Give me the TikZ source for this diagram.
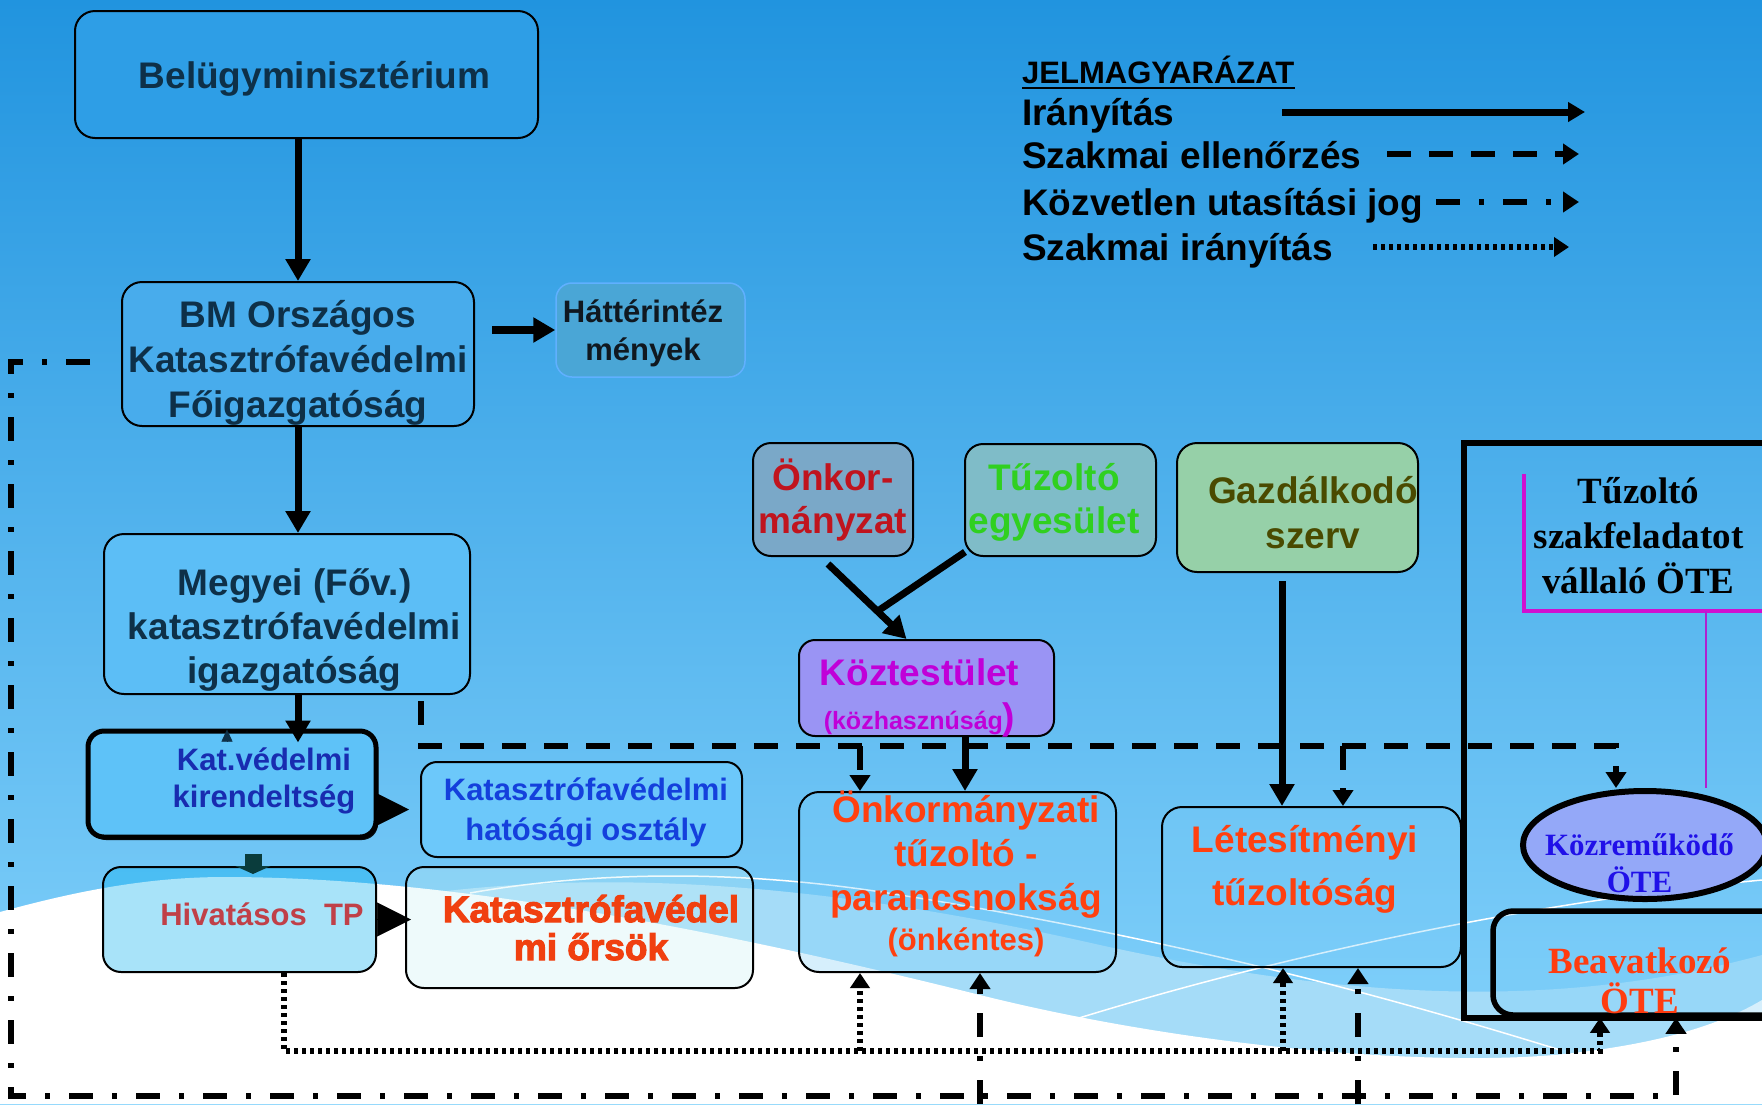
\documentclass[tikz,border=0pt]{standalone}
\usepackage{fontspec}
\setmainfont{Liberation Sans}
\newfontfamily\timesfont{Liberation Serif}
\newfontfamily\heavyfont{Liberation Sans}[BoldFeatures={FakeBold=3}]
\usetikzlibrary{arrows.meta, shapes.geometric, shadows, calc}

\definecolor{bgtop}{RGB}{33,148,223}
\definecolor{bgmid}{RGB}{98,182,240}
\definecolor{bgbot}{RGB}{135,212,252}
\definecolor{cband}{RGB}{165,220,248}
\definecolor{cnavy}{RGB}{14,48,72}
\definecolor{cbel}{RGB}{46,158,230}
\definecolor{cbm}{RGB}{72,172,236}
\definecolor{cmeg}{RGB}{92,190,246}
\definecolor{chat}{RGB}{74,166,214}
\definecolor{chatb}{RGB}{96,176,255}
\definecolor{cdark}{RGB}{16,24,32}
\definecolor{ckat}{RGB}{94,194,248}
\definecolor{ckatt}{RGB}{24,44,176}
\definecolor{chos}{RGB}{108,200,250}
\definecolor{chost}{RGB}{20,64,220}
\definecolor{chiv}{RGB}{192,64,72}
\definecolor{cors}{RGB}{200,240,245}
\definecolor{cred}{RGB}{240,64,16}
\definecolor{conk}{RGB}{122,168,200}
\definecolor{conkt}{RGB}{192,20,30}
\definecolor{ctue}{RGB}{127,188,200}
\definecolor{ctuet}{RGB}{48,208,32}
\definecolor{cgaz}{RGB}{150,208,168}
\definecolor{cgazt}{RGB}{74,74,0}
\definecolor{ckoz}{RGB}{154,148,244}
\definecolor{ckozt}{RGB}{192,0,216}
\definecolor{cpk}{RGB}{120,204,248}
\definecolor{corange}{RGB}{255,64,16}
\definecolor{cmag}{RGB}{208,16,208}
\definecolor{cmagthin}{RGB}{176,32,208}
\definecolor{cell}{RGB}{148,168,248}
\definecolor{cellt}{RGB}{32,16,232}
\definecolor{cbea}{RGB}{255,60,16}
\definecolor{cteal}{RGB}{10,60,60}

\newcommand{\fs}[2]{\fontsize{#1}{#2}\selectfont}
\newcommand{\tb}[3]{\makebox[0pt]{\raisebox{#1pt}[0pt][0pt]{\begin{tabular}[b]{@{\hspace{#2pt}}c@{}}#3\end{tabular}}}}

\begin{document}
\begin{tikzpicture}[x=1pt,y=-1pt,
    box/.style={draw, line width=2pt, rounded corners=20pt, align=center, inner sep=0pt, font=\bfseries\fs{37}{45}},
    seethru/.style={fill=cpk, fill opacity=0.3, text opacity=1},
    ctrl/.style={line width=7pt, -{Triangle[length=22pt,width=24pt]}},
    irany/.style={line width=7pt, -{Triangle[length=17pt,width=19pt]}},
    ellen/.style={line width=6.5pt, dash pattern=on 24pt off 18pt, -{Triangle[length=16pt,width=20pt]}},
    utas/.style={line width=6.5pt, dash pattern=on 24pt off 19pt on 5pt off 19pt, -{Triangle[length=16pt,width=20pt]}},
    szak/.style={line width=5.5pt, dash pattern=on 4pt off 4pt, -{Triangle[length=15pt,width=19pt]}},
    tri/.style={line width=0.5pt, -{Triangle[length=34pt,width=34pt]}},
    legend/.style={inner sep=0pt, anchor=base west, font=\bfseries\fs{37}{44}}]

\useasboundingbox (0,0) rectangle (1762,1104);
\clip (0,0) rectangle (1762,1104);
\shade[top color=bgtop, middle color=bgmid, bottom color=bgbot] (0,0) rectangle (1762,1104);
\fill[cband] (430,893) .. controls (650,865) and (880,895) .. (1100,945)
    .. controls (1350,1000) and (1560,1010) .. (1762,955) -- (1762,1104) -- (430,1104) -- cycle;
\fill[white] (0,912) .. controls (80,890) and (150,877) .. (225,877)
    .. controls (450,877) and (720,930) .. (980,995)
    .. controls (1200,1050) and (1450,1068) .. (1573,1053)
    .. controls (1660,1043) and (1720,1025) .. (1762,1000) -- (1762,1104) -- (0,1104) -- cycle;
\draw[white, line width=1.5pt] (470,893) .. controls (600,870) and (750,870) .. (900,895)
    .. controls (1150,935) and (1350,985) .. (1560,1050);
\draw[white, line width=1.5pt] (1079,1018) .. controls (1300,950) and (1550,900) .. (1762,880);

\node[box, fill=cbel, text=cnavy, minimum width=463pt, minimum height=127pt] (bel) at (306.5,74.5) {\tb{-13.5}{16}{Belügyminisztérium}};
\node[box, fill=cbm, text=cnavy, minimum width=352pt, minimum height=144pt] (bm) at (298,354) {\tb{-63}{0}{BM Országos\\Katasztrófavédelmi\\Főigazgatóság}};
\node[box, draw=chatb, line width=1.5pt, fill=chat, text=cdark, font=\bfseries\fs{31}{38}, rounded corners=16pt, minimum width=189pt, minimum height=94pt] (hatter) at (650.5,330) {\tb{-30}{-15}{Háttérintéz\\mények}};
\node[box, fill=cmeg, text=cnavy, font=\bfseries\fs{37}{44}, minimum width=366pt, minimum height=160pt] (meg) at (287,614) {\tb{-69}{15}{Megyei (Főv.)\\katasztrófavédelmi\\igazgatóság}};
\node[box, line width=5pt, fill=ckat, text=ckatt, font=\bfseries\fs{31}{37}, rounded corners=16pt,
    drop shadow={shadow xshift=2pt, shadow yshift=-3pt, fill=black, opacity=0.9},
    minimum width=288pt, minimum height=106pt] (kat) at (232,784) {\tb{-23}{64}{Kat.védelmi\\kirendeltség}};
\node[box, fill=chos, text=chost, font=\bfseries\fs{31}{40}, rounded corners=16pt, minimum width=321pt, minimum height=95pt] (hos) at (581.5,809.5) {\tb{-30.5}{9}{Katasztrófavédelmi\\hatósági osztály}};
\node[box, fill=cyan, fill opacity=0.34, text opacity=1, text=chiv, font=\bfseries\fs{31}{37}, rounded corners=18pt, minimum width=273pt, minimum height=105pt] (hiv) at (239.5,919.5) {\tb{-5.5}{45}{Hivatásos\ \ TP}};
\node[box, fill=cors, fill opacity=0.3, text opacity=1, text=cred, font=\heavyfont\bfseries\fs{37}{37}, rounded corners=18pt, minimum width=347pt, minimum height=121pt] (ors) at (579.5,927.5) {\tb{-32.5}{23}{Katasztrófavédel\\mi őrsök}};

\node[box, fill=conk, text=conkt, font=\bfseries\fs{37}{43}, rounded corners=18pt, minimum width=160pt, minimum height=113pt] (onk) at (833,499.5) {\tb{-33.5}{0}{Önkor-\\mányzat}};
\node[box, fill=ctue, text=ctuet, font=\bfseries\fs{37}{43}, rounded corners=18pt, minimum width=191pt, minimum height=112pt] (tue) at (1060.5,500) {\tb{-33}{-13}{Tűzoltó\\egyesület}};
\node[box, fill=cgaz, text=cgazt, minimum width=241pt, minimum height=129pt] (gaz) at (1297.5,507.5) {\tb{-40.5}{31}{Gazdálkodó\\szerv}};
\node[box, fill=ckoz, text=ckozt, font=\bfseries\fs{37}{44}, rounded corners=16pt, minimum width=255pt, minimum height=96pt] (koz) at (926.5,688) {\tb{-41}{-14}{Köztestület\\{\fs{25}{30}(közhasznúság}{\fs{37}{44})}}};
\node[box, seethru, text=corange, font=\bfseries\fs{37}{44}, minimum width=317pt, minimum height=180pt] (pk) at (957.5,882) {\tb{-68}{17}{Önkormányzati\\tűzoltó -\\parancsnokság\\[-4pt]{\fs{31}{37}(önkéntes)}}};
\node[box, seethru, text=corange, font=\bfseries\fs{37}{53}, minimum width=299pt, minimum height=160pt] (let) at (1311.5,887) {\tb{-18}{-13}{Létesítményi\\tűzoltóság}};

\draw[line width=6pt] (1800,443) -| (1464,1018) -- (1800,1018);
\node[align=center, inner sep=0pt, font=\timesfont\bfseries\fs{37}{45}, minimum width=242pt, minimum height=137pt] (ote) at (1645,542.5) {\tb{-50.5}{-13}{Tűzoltó\\szakfeladatot\\vállaló ÖTE}};
\draw[cmag, line width=4.5pt] (ote.north west) -- (ote.south west) -- (ote.south east);
\node[ellipse, draw, line width=6pt, fill=cell, text=cellt, inner sep=0pt, font=\timesfont\bfseries\fs{31}{37}, minimum width=244pt, minimum height=108pt] (kozre) at (1645,845) {\tb{-47}{-11}{Közreműködő\\ÖTE}};
\draw[cmagthin, line width=1.5pt] ($(ote.south)+(61,0)$) -- ($(kozre.north)+(61,0)$);
\node[box, seethru, line width=5.5pt, text=cbea, font=\timesfont\bfseries\fs{37}{28}, minimum width=294pt, minimum height=104pt] (bea) at (1640,963) {\tb{-50}{0}{Beavatkozó\\ÖTE}};

\draw[ctrl] (bel.south -| bm.north) -- (bm.north);
\draw[ctrl] (bm.south) -- (bm.south |- meg.north);
\draw[ctrl] (bm.south |- meg.south) -- ($(bm.south |- kat.north)+(0,14)$);
\draw[ctrl, line width=8pt] ($(bm.east |- hatter.west)+(17,0)$) -- (hatter.west);
\draw[tri] (kat.east |- hos.west) -- ($(hos.west)+(-11,0)$);
\draw[tri] (hiv.east) -- ($(hiv.east)+(34,0)$);
\draw[cteal, line width=17pt, -{Triangle[length=8pt,width=35pt]}] ($(kat.south)+(21,14)$) -- ($(kat.south |- hiv.north)+(21,8)$);
\draw[cnavy, line width=0.5pt, -{Triangle[length=12pt,width=11pt]}] ($(kat.north)+(-5,13)$) -- ($(kat.north)+(-5,1)$);

\draw[ctrl] ($(onk.south)+(-5,7)$) coordinate (o1) -- ($(koz.north)+(-20,0)$) coordinate (o2);
\draw[line width=7pt] ($(tue.south west)+(1,-5)$) -- ($(o1)!0.63!(o2)$);
\draw[ctrl] ($(pk.north)+(7.5,-56)$) -- ($(pk.north)+(7.5,0)$);
\draw[ctrl] ($(gaz.south)+(-15.5,8)$) -- ($(let.north)+(-29.5,0)$);

\draw[ellen] ($(meg.south)+(134,6)$) -- ++(0,45) coordinate (d1) -| ($(kozre.north)+(-29,0)$);
\draw[ellen] ($(d1 -| pk.north)+(-97.5,0)$) -- ($(pk.north)+(-97.5,0)$);
\draw[ellen] ($(d1 -| let.north)+(31.5,0)$) -- ($(let.north)+(31.5,0)$);

\coordinate (u1) at (11,1096);
\draw[utas] ($(bm.west)+(-31,8)$) -| (u1) -| ($(bea.south)+(36,0)$);
\draw[utas] ($(u1 -| pk.south)+(22.5,8)$) -- ($(pk.south)+(22.5,0)$);
\draw[utas] ($(u1 -| let.south)+(46.5,8)$) -- ($(let.south)+(46.5,0)$);

\coordinate (s1) at ($(bea.south)+(-40,33)$);
\draw[szak] ($(hiv.south)+(44.5,0)$) |- (s1) -- ($(bea.south)+(-40,0)$);
\draw[szak] ($(s1 -| pk.south)+(-97.5,0)$) -- ($(pk.south)+(-97.5,0)$);
\draw[szak] ($(s1 -| let.south)+(-28.5,0)$) -- ($(let.south)+(-28.5,0)$);

\node[legend, font=\bfseries\fs{31}{37}] (lg0) at (1022,83) {JELMAGYARÁZAT};
\draw[line width=2.5pt] ($(lg0.base west)+(0,5)$) -- ($(lg0.base east)+(0,5)$);
\node[legend] (lg1) at (1022,125) {Irányítás};
\node[legend] (lg2) at (1022,168) {Szakmai ellenőrzés};
\node[legend] (lg3) at (1022,215) {Közvetlen utasítási jog};
\node[legend] (lg4) at (1022,260) {Szakmai irányítás};
\foreach \i/\sty/\xa/\xb/\yy in {1/irany/1282/1585/112, 2/ellen/1387/1579/154, 3/utas/1436/1579/202, 4/szak/1373/1569/247}{
  \coordinate (la\i) at (\xa,\yy);
  \coordinate (lb\i) at (\xb,\yy);
  \draw[\sty] (la\i) -- (lb\i);
}
\end{tikzpicture}
\end{document}
